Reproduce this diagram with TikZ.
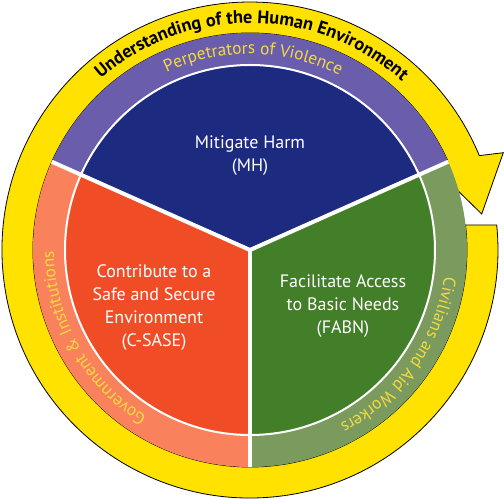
\documentclass[tikz,border=0pt]{standalone}
\usepackage{fontspec}
\setmainfont{PT Sans}
\usetikzlibrary{decorations.text}
\definecolor{MhBlue}{HTML}{1C2A80}
\definecolor{PvBand}{HTML}{6A5EAC}
\definecolor{SaseRed}{HTML}{F04D27}
\definecolor{GiBand}{HTML}{F9825C}
\definecolor{FabnGreen}{HTML}{437E28}
\definecolor{CawBand}{HTML}{7B9B5E}
\definecolor{RingYellow}{HTML}{FFE200}
\definecolor{BandText}{HTML}{F2DA3E}
\tikzset{goal/.style={text=white,align=center,font=\fontsize{13.5}{17.25}\selectfont},
 divider/.style={draw=white,line width=3pt},
 ringtext/.style={decorate,decoration={text along path,text align=center,text color=#1}},
 ringtext/.default=BandText}
\begin{document}
\begin{tikzpicture}[x=0.75pt,y=0.75pt]
\useasboundingbox (-250,-249) rectangle (254,250);
\filldraw[fill=RingYellow,draw=black,line width=0.6pt] (215.6,25) -- (246.7,25)
 arc[start angle=5.79,end angle=-337.63,radius=248] -- (253.3,97.3) -- (231.7,36)
 -- (178.3,88.3) -- (24.65:217) arc[start angle=24.65,end angle=366.62,radius=217] -- cycle;
\fill[PvBand] (24:185) -- (24:217) arc[start angle=24,end angle=156,radius=217] -- (156:185) arc[start angle=156,end angle=24,radius=185] -- cycle;
\fill[GiBand] (156:185) -- (156:217) arc[start angle=156,end angle=270,radius=217] -- (270:185) arc[start angle=270,end angle=156,radius=185] -- cycle;
\fill[CawBand] (270:185) -- (270:217) arc[start angle=270,end angle=384,radius=217] -- (384:185) arc[start angle=384,end angle=270,radius=185] -- cycle;
\fill[MhBlue] (0,0) -- (24:185) arc[start angle=24,end angle=156,radius=185] -- cycle;
\fill[SaseRed] (0,0) -- (156:185) arc[start angle=156,end angle=270,radius=185] -- cycle;
\fill[FabnGreen] (0,0) -- (270:185) arc[start angle=270,end angle=384,radius=185] -- cycle;
\coordinate (hub) at (0,0);
\draw[white,line width=1.5pt] (hub) circle[radius=185];
\foreach \a in {24,156,270} \draw[divider] (hub) -- (\a:217);
\node[goal] (mh) at (0,94.5) {Mitigate Harm\\(MH)};
\node[goal] (sase) at (-96,-57.5) {Contribute to a\\Safe and Secure\\Environment\\(C-SASE)};
\node[goal] (fabn) at (93,-56.5) {Facilitate Access\\to Basic Needs\\(FABN)};
\path[ringtext=black,decoration={text={|\bfseries\fontsize{13.7}{15}\selectfont|Understanding of the Human Environment}}]
 (169.5:227) arc[start angle=169.5,end angle=9.5,radius=227];
\path[ringtext,decoration={text={|\fontsize{13}{15}\selectfont|Perpetrators of Violence}}]
 (169:196) arc[start angle=169,end angle=9,radius=196];
\path[ringtext,decoration={text={|\fontsize{13}{15}\selectfont|Government {\&} Institutions}}]
 (269.3:196) arc[start angle=269.3,end angle=149.3,radius=196];
\path[ringtext,decoration={text={|\fontsize{13}{15}\selectfont|Civilians and Aid Workers}}]
 (24.8:196) arc[start angle=24.8,end angle=-95.2,radius=196];
\end{tikzpicture}
\end{document}
